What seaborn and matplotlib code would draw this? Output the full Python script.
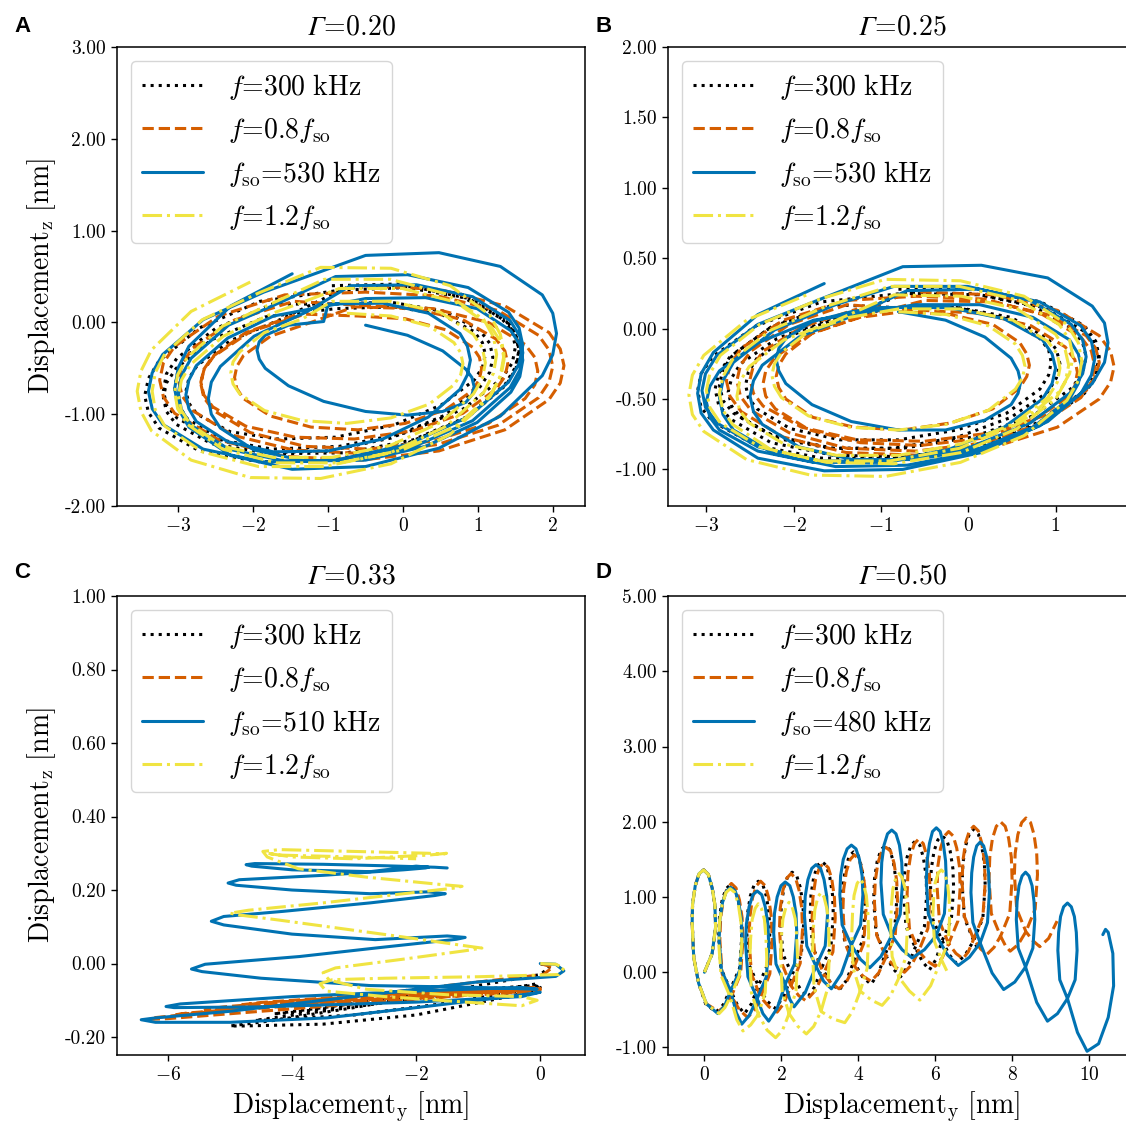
import matplotlib
matplotlib.use("Agg")
import matplotlib.pyplot as plt
import seaborn as sns
from matplotlib.ticker import FormatStrFormatter, MultipleLocator

# ---------------- panel A (Gamma = 0.20): orbit points, one row per turn ----------------
a_black_x = [-0.95, 0.01, 0.82, 1.36, 1.50, 1.55, 1.50, 1.36, 0.82, 0.01, -0.95, -1.91, -2.72, -3.26, -3.40, -3.45, -3.40, -3.26, -2.72, -1.91,
             -0.85, 0.05, 0.81, 1.32, 1.46, 1.50, 1.46, 1.32, 0.81, 0.05, -0.85, -1.75, -2.51, -3.02, -3.16, -3.20, -3.16, -3.02, -2.51, -1.75,
             -1.00, -0.16, 0.56, 1.03, 1.16, 1.20, 1.16, 1.03, 0.56, -0.16, -1.00, -1.84, -2.56, -3.03, -3.16, -3.20, -3.16, -3.03, -2.56, -1.84,
             -0.90, -0.13, 0.51, 0.95, 1.06, 1.10, 1.06, 0.95, 0.51, -0.13, -0.90, -1.67, -2.31, -2.75, -2.86, -2.90, -2.86, -2.75, -2.31, -1.67,
             -0.75, 0.13, 0.88, 1.38, 1.51, 1.55, 1.51, 1.38, 0.88, 0.13, -0.75, -1.63, -2.38, -2.88, -3.01, -3.05, -3.01, -2.88, -2.38, -1.63]
a_black_y = [0.40, 0.42, 0.30, 0.05, -0.12, -0.30, -0.49, -0.68, -1.05, -1.33, -1.50, -1.52, -1.40, -1.15, -0.98, -0.80, -0.61, -0.42, -0.06, 0.23,
             0.35, 0.38, 0.27, 0.04, -0.10, -0.27, -0.44, -0.61, -0.94, -1.20, -1.35, -1.38, -1.27, -1.04, -0.90, -0.74, -0.56, -0.39, -0.07, 0.20,
             0.20, 0.22, 0.12, -0.09, -0.23, -0.38, -0.54, -0.70, -1.01, -1.26, -1.40, -1.42, -1.32, -1.11, -0.97, -0.82, -0.66, -0.50, -0.19, 0.06,
             0.15, 0.17, 0.09, -0.10, -0.22, -0.35, -0.49, -0.63, -0.90, -1.12, -1.25, -1.27, -1.19, -1.00, -0.88, -0.75, -0.61, -0.47, -0.20, 0.02,
             0.38, 0.39, 0.26, 0.01, -0.15, -0.32, -0.50, -0.68, -1.02, -1.28, -1.42, -1.43, -1.30, -1.05, -0.89, -0.72, -0.54, -0.36, -0.03, 0.24]
a_orange_x = [-0.55, 0.48, 1.36, 1.95, 2.10, 2.15, 2.10, 1.95, 1.36, 0.48, -0.55, -1.58, -2.46, -3.05, -3.20, -3.25, -3.20, -3.05, -2.46, -1.58,
              -0.50, 0.46, 1.27, 1.81, 1.95, 2.00, 1.95, 1.81, 1.27, 0.46, -0.50, -1.46, -2.27, -2.81, -2.95, -3.00, -2.95, -2.81, -2.27, -1.46,
              -0.45, 0.41, 1.14, 1.63, 1.76, 1.80, 1.76, 1.63, 1.14, 0.41, -0.45, -1.31, -2.04, -2.53, -2.66, -2.70, -2.66, -2.53, -2.04, -1.31,
              -0.60, 0.03, 0.57, 0.93, 1.02, 1.05, 1.02, 0.93, 0.57, 0.03, -0.60, -1.23, -1.77, -2.13, -2.22, -2.25, -2.22, -2.13, -1.77, -1.23,
              -0.65, 0.14, 0.80, 1.24, 1.36, 1.40, 1.36, 1.24, 0.80, 0.14, -0.65, -1.44, -2.10, -2.54, -2.66, -2.70, -2.66, -2.54, -2.10, -1.44]
a_orange_y = [0.40, 0.36, 0.18, -0.11, -0.29, -0.47, -0.66, -0.84, -1.17, -1.40, -1.50, -1.46, -1.28, -0.99, -0.81, -0.63, -0.44, -0.26, 0.07, 0.30,
              0.33, 0.29, 0.13, -0.14, -0.30, -0.48, -0.65, -0.82, -1.12, -1.33, -1.43, -1.39, -1.23, -0.96, -0.80, -0.63, -0.45, -0.28, 0.02, 0.23,
              0.18, 0.15, 0.00, -0.24, -0.38, -0.53, -0.68, -0.83, -1.10, -1.29, -1.38, -1.35, -1.20, -0.96, -0.82, -0.67, -0.52, -0.37, -0.10, 0.09,
              0.07, 0.04, -0.08, -0.27, -0.38, -0.50, -0.62, -0.74, -0.95, -1.10, -1.17, -1.14, -1.02, -0.83, -0.72, -0.60, -0.48, -0.36, -0.15, 0.00,
              0.17, 0.15, 0.03, -0.18, -0.31, -0.45, -0.59, -0.73, -0.99, -1.18, -1.27, -1.25, -1.13, -0.92, -0.79, -0.65, -0.51, -0.37, -0.11, 0.08]
a_blue_x = [-0.50, 0.06, 0.53, 0.84, 0.92, 0.95, 0.92, 0.84, 0.53, 0.06, -0.50, -1.06, -1.53, -1.84, -1.92, -1.95, -1.92, -1.84, -1.53, -1.06,
            -1.00, -0.27, 0.34, 0.76, 0.86, 0.90, 0.86, 0.76, 0.34, -0.27, -1.00, -1.73, -2.34, -2.76, -2.86, -2.90, -2.86, -2.76, -2.34, -1.73,
            -0.50, 0.30, 0.99, 1.44, 1.56, 1.60, 1.56, 1.44, 0.99, 0.30, -0.50, -1.30, -1.99, -2.44, -2.56, -2.60, -2.56, -2.44, -1.99, -1.30,
            -0.70, 0.18, 0.93, 1.43, 1.56, 1.60, 1.56, 1.43, 0.93, 0.18, -0.70, -1.58, -2.33, -2.83, -2.96, -3.00, -2.96, -2.83, -2.33, -1.58,
            -0.90, 0.06, 0.87, 1.41, 1.55, 1.60, 1.55, 1.41, 0.87, 0.06, -0.90, -1.86, -2.67, -3.21, -3.35, -3.40, -3.35, -3.21, -2.67, -1.86,
            -0.50, 0.48, 1.30, 1.86, 2.00, 2.05, 2.00, 1.86, 1.30, 0.48, -0.50, -1.48, -2.30, -2.86, -3.00, -3.05, -3.00, -2.86, -2.30, -1.48]
a_blue_y = [-0.03, -0.14, -0.31, -0.51, -0.60, -0.70, -0.79, -0.87, -0.97, -1.01, -0.97, -0.86, -0.69, -0.50, -0.40, -0.30, -0.21, -0.14, -0.03, 0.01,
            0.20, 0.21, 0.10, -0.12, -0.26, -0.41, -0.57, -0.73, -1.03, -1.27, -1.40, -1.41, -1.30, -1.08, -0.94, -0.79, -0.63, -0.47, -0.17, 0.07,
            0.26, 0.27, 0.15, -0.09, -0.24, -0.41, -0.59, -0.76, -1.09, -1.35, -1.50, -1.51, -1.39, -1.15, -1.00, -0.83, -0.65, -0.48, -0.15, 0.11,
            0.40, 0.41, 0.28, 0.02, -0.15, -0.33, -0.52, -0.71, -1.07, -1.34, -1.50, -1.51, -1.38, -1.12, -0.95, -0.77, -0.58, -0.39, -0.03, 0.24,
            0.50, 0.52, 0.38, 0.11, -0.06, -0.25, -0.45, -0.65, -1.03, -1.33, -1.50, -1.52, -1.38, -1.11, -0.94, -0.75, -0.55, -0.35, 0.03, 0.33,
            0.73, 0.76, 0.61, 0.30, 0.10, -0.12, -0.35, -0.58, -1.02, -1.37, -1.57, -1.60, -1.45, -1.14, -0.94, -0.72, -0.49, -0.26, 0.18, 0.53]
a_yellow_x = [-0.75, -0.16, 0.35, 0.68, 0.77, 0.80, 0.77, 0.68, 0.35, -0.16, -0.75, -1.34, -1.85, -2.18, -2.27, -2.30, -2.27, -2.18, -1.85, -1.34,
              -0.95, -0.17, 0.50, 0.94, 1.06, 1.10, 1.06, 0.94, 0.50, -0.17, -0.95, -1.74, -2.40, -2.84, -2.96, -3.00, -2.96, -2.84, -2.40, -1.74,
              -0.85, -0.01, 0.71, 1.18, 1.31, 1.35, 1.31, 1.18, 0.71, -0.01, -0.85, -1.69, -2.41, -2.88, -3.01, -3.05, -3.01, -2.88, -2.41, -1.69,
              -1.05, -0.17, 0.58, 1.08, 1.21, 1.25, 1.21, 1.08, 0.58, -0.17, -1.05, -1.93, -2.68, -3.18, -3.31, -3.35, -3.31, -3.18, -2.68, -1.93,
              -1.10, -0.16, 0.63, 1.16, 1.30, 1.35, 1.30, 1.16, 0.63, -0.16, -1.10, -2.04, -2.83, -3.36, -3.50, -3.55, -3.50, -3.36, -2.83, -2.04]
a_yellow_y = [0.10, 0.07, -0.04, -0.22, -0.33, -0.45, -0.57, -0.68, -0.89, -1.04, -1.10, -1.07, -0.96, -0.78, -0.67, -0.55, -0.43, -0.32, -0.11, 0.04,
              0.23, 0.23, 0.11, -0.13, -0.28, -0.44, -0.61, -0.78, -1.09, -1.34, -1.47, -1.47, -1.35, -1.11, -0.96, -0.80, -0.63, -0.46, -0.15, 0.10,
              0.37, 0.37, 0.22, -0.05, -0.22, -0.40, -0.58, -0.78, -1.13, -1.39, -1.53, -1.53, -1.38, -1.11, -0.94, -0.76, -0.57, -0.38, -0.04, 0.23,
              0.47, 0.47, 0.31, 0.03, -0.16, -0.35, -0.55, -0.76, -1.13, -1.42, -1.57, -1.57, -1.41, -1.13, -0.95, -0.75, -0.55, -0.34, 0.03, 0.32,
              0.60, 0.59, 0.40, 0.08, -0.13, -0.35, -0.58, -0.81, -1.22, -1.54, -1.70, -1.69, -1.50, -1.18, -0.97, -0.75, -0.53, -0.30, 0.12, 0.44]

# ---------------- panel B (Gamma = 0.25) ----------------
b_black_x = [-0.80, 0.08, 0.83, 1.33, 1.46, 1.50, 1.46, 1.33, 0.83, 0.08, -0.80, -1.68, -2.43, -2.93, -3.06, -3.10, -3.06, -2.93, -2.43, -1.68,
             -0.75, 0.05, 0.74, 1.19, 1.31, 1.35, 1.31, 1.19, 0.74, 0.05, -0.75, -1.55, -2.24, -2.69, -2.81, -2.85, -2.81, -2.69, -2.24, -1.55,
             -0.85, -0.12, 0.49, 0.91, 1.01, 1.05, 1.01, 0.91, 0.49, -0.12, -0.85, -1.58, -2.19, -2.61, -2.71, -2.75, -2.71, -2.61, -2.19, -1.58,
             -0.80, -0.13, 0.44, 0.82, 0.92, 0.95, 0.92, 0.82, 0.44, -0.13, -0.80, -1.47, -2.04, -2.42, -2.52, -2.55, -2.52, -2.42, -2.04, -1.47,
             -0.70, 0.14, 0.86, 1.33, 1.46, 1.50, 1.46, 1.33, 0.86, 0.14, -0.70, -1.54, -2.26, -2.73, -2.86, -2.90, -2.86, -2.73, -2.26, -1.54]
b_black_y = [0.28, 0.28, 0.19, 0.02, -0.09, -0.20, -0.32, -0.44, -0.66, -0.83, -0.92, -0.92, -0.83, -0.66, -0.56, -0.44, -0.32, -0.20, 0.02, 0.19,
             0.25, 0.25, 0.16, 0.00, -0.10, -0.20, -0.31, -0.42, -0.62, -0.77, -0.85, -0.85, -0.76, -0.60, -0.51, -0.40, -0.29, -0.18, 0.02, 0.17,
             0.15, 0.15, 0.08, -0.07, -0.15, -0.25, -0.35, -0.45, -0.63, -0.77, -0.85, -0.85, -0.78, -0.63, -0.55, -0.45, -0.35, -0.25, -0.07, 0.07,
             0.15, 0.15, 0.07, -0.07, -0.15, -0.24, -0.33, -0.43, -0.60, -0.72, -0.79, -0.79, -0.71, -0.57, -0.49, -0.40, -0.31, -0.21, -0.05, 0.08,
             0.25, 0.24, 0.15, -0.02, -0.12, -0.23, -0.35, -0.46, -0.67, -0.83, -0.91, -0.90, -0.81, -0.64, -0.54, -0.43, -0.32, -0.20, 0.01, 0.17]
b_orange_x = [-0.55, 0.30, 1.02, 1.50, 1.63, 1.67, 1.63, 1.50, 1.02, 0.30, -0.55, -1.40, -2.12, -2.60, -2.73, -2.77, -2.73, -2.60, -2.12, -1.40,
              -0.60, 0.19, 0.85, 1.29, 1.41, 1.45, 1.41, 1.29, 0.85, 0.19, -0.60, -1.39, -2.05, -2.49, -2.61, -2.65, -2.61, -2.49, -2.05, -1.39,
              -0.55, 0.14, 0.72, 1.11, 1.22, 1.25, 1.22, 1.11, 0.72, 0.14, -0.55, -1.24, -1.82, -2.21, -2.32, -2.35, -2.32, -2.21, -1.82, -1.24,
              -0.75, -0.20, 0.28, 0.59, 0.67, 0.70, 0.67, 0.59, 0.28, -0.20, -0.75, -1.31, -1.78, -2.09, -2.17, -2.20, -2.17, -2.09, -1.78, -1.31,
              -0.50, 0.27, 0.91, 1.35, 1.46, 1.50, 1.46, 1.35, 0.91, 0.27, -0.50, -1.27, -1.91, -2.35, -2.46, -2.50, -2.46, -2.35, -1.91, -1.27]
b_orange_y = [0.26, 0.24, 0.13, -0.05, -0.16, -0.27, -0.38, -0.50, -0.70, -0.84, -0.90, -0.88, -0.77, -0.59, -0.48, -0.37, -0.26, -0.14, 0.06, 0.20,
              0.23, 0.21, 0.10, -0.06, -0.16, -0.27, -0.38, -0.49, -0.67, -0.81, -0.87, -0.85, -0.74, -0.58, -0.48, -0.37, -0.26, -0.16, 0.03, 0.17,
              0.13, 0.11, 0.02, -0.13, -0.22, -0.31, -0.41, -0.50, -0.66, -0.78, -0.83, -0.81, -0.72, -0.57, -0.48, -0.39, -0.30, -0.20, -0.04, 0.08,
              0.12, 0.10, 0.03, -0.10, -0.18, -0.26, -0.34, -0.42, -0.57, -0.67, -0.72, -0.70, -0.63, -0.50, -0.42, -0.34, -0.26, -0.18, -0.03, 0.07,
              0.20, 0.19, 0.10, -0.05, -0.14, -0.24, -0.34, -0.44, -0.61, -0.74, -0.80, -0.79, -0.70, -0.55, -0.46, -0.36, -0.26, -0.16, 0.01, 0.14]
b_blue_x = [-0.80, -0.26, 0.19, 0.49, 0.57, 0.60, 0.57, 0.49, 0.19, -0.26, -0.80, -1.34, -1.79, -2.09, -2.17, -2.20, -2.17, -2.09, -1.79, -1.34,
            -1.00, -0.23, 0.41, 0.85, 0.96, 1.00, 0.96, 0.85, 0.41, -0.23, -1.00, -1.77, -2.41, -2.85, -2.96, -3.00, -2.96, -2.85, -2.41, -1.77,
            -0.60, 0.13, 0.74, 1.16, 1.26, 1.30, 1.26, 1.16, 0.74, 0.13, -0.60, -1.33, -1.94, -2.36, -2.46, -2.50, -2.46, -2.36, -1.94, -1.33,
            -0.70, 0.12, 0.82, 1.29, 1.41, 1.45, 1.41, 1.29, 0.82, 0.12, -0.70, -1.52, -2.22, -2.69, -2.81, -2.85, -2.81, -2.69, -2.22, -1.52,
            -0.85, -0.01, 0.71, 1.18, 1.31, 1.35, 1.31, 1.18, 0.71, -0.01, -0.85, -1.69, -2.41, -2.88, -3.01, -3.05, -3.01, -2.88, -2.41, -1.69,
            -0.75, 0.15, 0.91, 1.42, 1.56, 1.60, 1.56, 1.42, 0.91, 0.15, -0.75, -1.65, -2.41, -2.92, -3.06, -3.10, -3.06, -2.92, -2.41, -1.65]
b_blue_y = [0.12, 0.06, -0.06, -0.21, -0.30, -0.38, -0.46, -0.54, -0.65, -0.72, -0.72, -0.66, -0.54, -0.39, -0.30, -0.22, -0.14, -0.07, 0.05, 0.12,
            0.15, 0.15, 0.07, -0.08, -0.18, -0.28, -0.39, -0.50, -0.70, -0.86, -0.95, -0.95, -0.87, -0.72, -0.63, -0.52, -0.41, -0.30, -0.10, 0.06,
            0.17, 0.17, 0.08, -0.08, -0.18, -0.28, -0.39, -0.50, -0.70, -0.85, -0.93, -0.93, -0.84, -0.68, -0.59, -0.48, -0.37, -0.26, -0.06, 0.09,
            0.27, 0.28, 0.19, 0.02, -0.09, -0.21, -0.33, -0.46, -0.69, -0.87, -0.97, -0.98, -0.89, -0.72, -0.61, -0.49, -0.37, -0.24, -0.01, 0.17,
            0.30, 0.30, 0.20, 0.03, -0.08, -0.20, -0.32, -0.45, -0.67, -0.85, -0.94, -0.94, -0.84, -0.67, -0.56, -0.44, -0.32, -0.19, 0.03, 0.21,
            0.44, 0.45, 0.36, 0.16, 0.04, -0.10, -0.24, -0.39, -0.66, -0.88, -1.00, -1.01, -0.92, -0.72, -0.60, -0.46, -0.32, -0.17, 0.10, 0.32]
b_yellow_x = [-0.80, -0.25, 0.23, 0.54, 0.62, 0.65, 0.62, 0.54, 0.23, -0.25, -0.80, -1.36, -1.83, -2.14, -2.22, -2.25, -2.22, -2.14, -1.83, -1.36,
              -0.80, -0.09, 0.51, 0.91, 1.02, 1.05, 1.02, 0.91, 0.51, -0.09, -0.80, -1.51, -2.11, -2.51, -2.62, -2.65, -2.62, -2.51, -2.11, -1.51,
              -0.85, -0.08, 0.56, 1.00, 1.11, 1.15, 1.11, 1.00, 0.56, -0.08, -0.85, -1.62, -2.26, -2.70, -2.81, -2.85, -2.81, -2.70, -2.26, -1.62,
              -0.90, -0.10, 0.59, 1.04, 1.16, 1.20, 1.16, 1.04, 0.59, -0.10, -0.90, -1.70, -2.39, -2.84, -2.96, -3.00, -2.96, -2.84, -2.39, -1.70,
              -0.95, -0.09, 0.64, 1.13, 1.26, 1.30, 1.26, 1.13, 0.64, -0.09, -0.95, -1.81, -2.54, -3.03, -3.16, -3.20, -3.16, -3.03, -2.54, -1.81]
b_yellow_y = [0.12, 0.10, 0.02, -0.11, -0.19, -0.27, -0.35, -0.43, -0.58, -0.68, -0.72, -0.70, -0.62, -0.49, -0.41, -0.33, -0.25, -0.17, -0.02, 0.08,
              0.14, 0.14, 0.06, -0.09, -0.18, -0.28, -0.38, -0.49, -0.68, -0.82, -0.90, -0.90, -0.82, -0.67, -0.58, -0.48, -0.38, -0.27, -0.08, 0.06,
              0.24, 0.23, 0.14, -0.04, -0.15, -0.26, -0.38, -0.50, -0.71, -0.88, -0.96, -0.95, -0.86, -0.68, -0.58, -0.46, -0.34, -0.22, -0.01, 0.16,
              0.30, 0.30, 0.20, 0.03, -0.08, -0.20, -0.32, -0.45, -0.67, -0.85, -0.94, -0.94, -0.84, -0.67, -0.56, -0.44, -0.32, -0.19, 0.03, 0.21,
              0.35, 0.34, 0.23, 0.03, -0.10, -0.23, -0.37, -0.51, -0.76, -0.95, -1.05, -1.04, -0.93, -0.73, -0.61, -0.47, -0.33, -0.19, 0.06, 0.25]

# ---------------- panel C (Gamma = 0.33) ----------------
c_black_x = [0.00, 0.15, 0.00, -1.50, -3.00, -4.30, -4.90, -5.00, -4.80, -3.50, -2.00, -0.80,
             -0.10, 0.00, -0.30, -1.80, -3.30, -4.40, -4.60, -4.40, -3.00, -1.60, -0.50, -0.05,
             -0.10, -0.80, -2.20, -3.50, -4.20, -4.30, -4.00, -2.80, -1.50, -0.40, -0.05]
c_black_y = [0.000, -0.010, -0.030, -0.075, -0.120, -0.155, -0.168, -0.170, -0.170, -0.165, -0.140, -0.100,
             -0.075, -0.065, -0.068, -0.090, -0.125, -0.150, -0.155, -0.154, -0.140, -0.110, -0.080, -0.062,
             -0.060, -0.068, -0.090, -0.120, -0.135, -0.137, -0.133, -0.110, -0.085, -0.065, -0.055]
c_orange_x = [0.00, 0.20, 0.05, -1.50, -3.50, -5.50, -6.25, -6.30, -6.00, -4.50, -3.00, -1.50,
              -0.20, 0.00, -0.30, -2.00, -4.00, -5.60, -5.90, -5.70, -4.20, -2.50, -1.00, -0.10,
              0.00, -0.40, -2.20, -4.00, -5.20, -5.40, -5.10, -3.80, -2.50, -1.20, -0.20, -0.05,
              -0.50, -2.00, -3.60, -4.60, -4.80, -4.50, -3.30, -2.00, -0.80, -0.20]
c_orange_y = [0.000, -0.010, -0.030, -0.060, -0.100, -0.135, -0.148, -0.152, -0.150, -0.130, -0.110, -0.090,
              -0.075, -0.072, -0.078, -0.095, -0.115, -0.135, -0.140, -0.135, -0.115, -0.095, -0.080, -0.070,
              -0.068, -0.074, -0.090, -0.110, -0.125, -0.125, -0.118, -0.100, -0.085, -0.075, -0.068, -0.065,
              -0.070, -0.085, -0.098, -0.110, -0.112, -0.106, -0.092, -0.080, -0.072, -0.068]
c_blue_x = [0.00, 0.25, 0.38, 0.25, -1.00, -3.00, -5.00, -6.20, -6.43, -6.20, -5.00, -3.44,
            -2.00, -0.50, 0.00, -0.30, -2.00, -4.50, -5.90, -6.03, -5.80, -4.00, -2.00, -0.30,
            -0.05, -1.00, -2.74, -4.50, -5.45, -5.62, -5.40, -3.88, -2.50, -1.35, -1.21, -1.50,
            -2.66, -4.00, -5.10, -5.30, -5.10, -4.14, -2.74, -1.70, -1.53, -1.80, -2.74, -4.00,
            -4.90, -5.03, -4.85, -3.50, -2.20, -1.85, -1.80, -2.00, -2.74, -4.00, -4.65, -4.74,
            -4.60, -3.50, -2.50, -1.70, -1.50]
c_blue_y = [0.000, -0.002, -0.020, -0.035, -0.050, -0.090, -0.130, -0.148, -0.153, -0.160, -0.160, -0.148,
            -0.120, -0.090, -0.078, -0.090, -0.105, -0.118, -0.120, -0.117, -0.110, -0.090, -0.075, -0.065,
            -0.070, -0.065, -0.060, -0.040, -0.022, -0.015, -0.002, 0.019, 0.045, 0.066, 0.071, 0.075,
            0.065, 0.080, 0.105, 0.115, 0.128, 0.142, 0.165, 0.185, 0.190, 0.195, 0.190, 0.200,
            0.213, 0.219, 0.228, 0.240, 0.255, 0.260, 0.262, 0.265, 0.250, 0.255, 0.265, 0.269,
            0.272, 0.270, 0.266, 0.262, 0.260]
c_yellow_x = [0.00, 0.25, 0.38, 0.30, -1.00, -2.50, -3.35, -3.55, -3.45, -2.50, -1.20, -0.30,
              -0.05, -0.30, -1.50, -2.80, -3.40, -3.50, -3.30, -2.20, -1.20, -0.94, -1.20, -2.20,
              -3.07, -4.20, -4.85, -5.00, -4.70, -3.50, -2.20, -1.40, -1.26, -1.60, -2.80, -3.90,
              -4.40, -4.47, -4.20, -3.00, -1.80, -1.55, -1.51, -1.80, -3.00, -4.00, -4.40, -4.20,
              -3.00, -2.00]
c_yellow_y = [0.000, -0.002, -0.012, -0.030, -0.036, -0.040, -0.044, -0.055, -0.075, -0.090, -0.105, -0.115,
              -0.100, -0.090, -0.085, -0.070, -0.045, -0.025, -0.012, 0.012, 0.035, 0.042, 0.048, 0.072,
              0.092, 0.118, 0.132, 0.137, 0.145, 0.165, 0.190, 0.205, 0.210, 0.215, 0.235, 0.258,
              0.290, 0.305, 0.310, 0.305, 0.300, 0.298, 0.300, 0.295, 0.285, 0.290, 0.300, 0.295,
              0.290, 0.285]

# ---------------- panel D (Gamma = 0.50): one row per loop ----------------
d_black_x = [0.00, 0.20, 0.29, 0.27, 0.20, 0.10, -0.02, -0.14, -0.24, -0.31, -0.32, -0.28, -0.15, 0.03, 0.30, 0.49,
             0.67, 0.91, 0.97, 0.95, 0.88, 0.79, 0.67, 0.56, 0.46, 0.39, 0.37, 0.43, 0.67, 0.86, 1.04, 1.22,
             1.40, 1.64, 1.70, 1.68, 1.61, 1.52, 1.40, 1.29, 1.19, 1.12, 1.10, 1.16, 1.40, 1.62, 1.84, 2.06,
             2.28, 2.52, 2.58, 2.56, 2.49, 2.40, 2.28, 2.17, 2.07, 2.00, 1.98, 2.04, 2.28, 2.49, 2.69, 2.87,
             3.05, 3.29, 3.35, 3.33, 3.26, 3.17, 3.05, 2.94, 2.84, 2.77, 2.75, 2.81, 3.05, 3.28, 3.50, 3.69,
             3.88, 4.12, 4.18, 4.16, 4.09, 4.00, 3.88, 3.77, 3.67, 3.60, 3.58, 3.64, 3.88, 4.11, 4.33, 4.52,
             4.70, 4.94, 5.00, 4.98, 4.91, 4.82, 4.70, 4.59, 4.49, 4.42, 4.40, 4.46, 4.70, 4.90, 5.10, 5.29,
             5.48, 5.72, 5.78, 5.76, 5.69, 5.60, 5.48, 5.37, 5.27, 5.20, 5.18, 5.24, 5.48, 5.67, 5.85, 6.02,
             6.18, 6.42, 6.48, 6.46, 6.39, 6.30, 6.18, 6.07, 5.97, 5.90, 5.88, 5.94, 6.18, 6.37, 6.55, 6.78,
             7.00, 7.24, 7.30, 7.28, 7.21, 7.12, 7.00, 6.89, 6.79, 6.72, 6.70, 6.76, 7.00, 7.09]
d_black_y = [0.00, 0.25, 0.60, 0.90, 1.12, 1.30, 1.36, 1.31, 1.15, 0.90, 0.66, 0.20, -0.15, -0.42, -0.53, -0.43,
             -0.23, 0.05, 0.47, 0.73, 0.96, 1.11, 1.16, 1.11, 0.96, 0.73, 0.47, 0.05, -0.23, -0.44, -0.55, -0.42,
             -0.18, 0.10, 0.52, 0.78, 1.01, 1.16, 1.21, 1.16, 1.01, 0.78, 0.52, 0.10, -0.18, -0.38, -0.48, -0.32,
             -0.03, 0.24, 0.65, 0.91, 1.13, 1.28, 1.33, 1.28, 1.13, 0.91, 0.65, 0.24, -0.03, -0.22, -0.33, -0.19,
             0.06, 0.34, 0.77, 1.03, 1.26, 1.42, 1.47, 1.42, 1.26, 1.03, 0.77, 0.34, 0.06, -0.14, -0.24, -0.11,
             0.14, 0.43, 0.87, 1.15, 1.39, 1.55, 1.60, 1.55, 1.39, 1.15, 0.87, 0.43, 0.14, -0.06, -0.16, -0.02,
             0.24, 0.53, 0.96, 1.23, 1.47, 1.63, 1.68, 1.63, 1.47, 1.23, 0.96, 0.53, 0.24, 0.05, -0.06, 0.08,
             0.33, 0.61, 1.04, 1.30, 1.53, 1.69, 1.74, 1.69, 1.53, 1.30, 1.04, 0.61, 0.33, 0.14, 0.03, 0.17,
             0.42, 0.70, 1.12, 1.38, 1.61, 1.76, 1.81, 1.76, 1.61, 1.38, 1.12, 0.70, 0.42, 0.23, 0.12, 0.23,
             0.42, 0.72, 1.16, 1.44, 1.68, 1.84, 1.90, 1.84, 1.68, 1.44, 1.16, 0.72, 0.42, 0.33]
d_orange_x = [0.00, 0.20, 0.29, 0.27, 0.20, 0.10, -0.02, -0.14, -0.24, -0.31, -0.32, -0.28, -0.15, 0.05, 0.36, 0.53,
              0.70, 0.94, 1.00, 0.98, 0.91, 0.82, 0.70, 0.59, 0.49, 0.42, 0.40, 0.46, 0.70, 0.91, 1.12, 1.29,
              1.46, 1.70, 1.76, 1.74, 1.67, 1.58, 1.46, 1.35, 1.25, 1.18, 1.16, 1.22, 1.46, 1.68, 1.89, 2.07,
              2.25, 2.49, 2.55, 2.53, 2.46, 2.37, 2.25, 2.14, 2.04, 1.97, 1.95, 2.01, 2.25, 2.45, 2.64, 2.87,
              3.10, 3.34, 3.40, 3.38, 3.31, 3.22, 3.10, 2.99, 2.89, 2.82, 2.80, 2.86, 3.10, 3.30, 3.50, 3.70,
              3.90, 4.14, 4.20, 4.18, 4.11, 4.02, 3.90, 3.79, 3.69, 3.62, 3.60, 3.66, 3.90, 4.12, 4.33, 4.53,
              4.72, 4.96, 5.02, 5.00, 4.93, 4.84, 4.72, 4.61, 4.51, 4.44, 4.42, 4.48, 4.72, 4.96, 5.20, 5.39,
              5.57, 5.81, 5.87, 5.85, 5.78, 5.69, 5.57, 5.46, 5.36, 5.29, 5.27, 5.33, 5.57, 5.79, 6.00, 6.18,
              6.35, 6.59, 6.65, 6.63, 6.56, 6.47, 6.35, 6.24, 6.14, 6.07, 6.05, 6.11, 6.35, 6.54, 6.72, 6.86,
              7.00, 7.24, 7.30, 7.28, 7.21, 7.12, 7.00, 6.89, 6.79, 6.72, 6.70, 6.76, 7.00, 7.18, 7.35, 7.53,
              7.70, 7.94, 8.00, 7.98, 7.91, 7.82, 7.70, 7.59, 7.49, 7.42, 7.40, 7.46, 7.70, 7.83, 7.95, 8.16,
              8.36, 8.60, 8.66, 8.64, 8.57, 8.48, 8.36, 8.25, 8.15, 8.08, 8.06, 8.12, 8.36, 8.54, 8.72, 8.95, 9.17]
d_orange_y = [0.00, 0.25, 0.60, 0.90, 1.12, 1.30, 1.36, 1.31, 1.15, 0.90, 0.66, 0.20, -0.15, -0.42, -0.52, -0.45,
              -0.32, -0.02, 0.43, 0.72, 0.96, 1.12, 1.18, 1.12, 0.96, 0.72, 0.43, -0.02, -0.32, -0.50, -0.60, -0.51,
              -0.33, -0.02, 0.44, 0.73, 0.99, 1.15, 1.21, 1.15, 0.99, 0.73, 0.44, -0.02, -0.33, -0.46, -0.53, -0.41,
              -0.18, 0.12, 0.57, 0.85, 1.09, 1.25, 1.31, 1.25, 1.09, 0.85, 0.57, 0.12, -0.18, -0.31, -0.38, -0.25,
              -0.02, 0.27, 0.72, 0.99, 1.24, 1.39, 1.45, 1.39, 1.24, 0.99, 0.72, 0.27, -0.02, -0.15, -0.22, -0.12,
              0.08, 0.38, 0.82, 1.10, 1.34, 1.50, 1.56, 1.50, 1.34, 1.10, 0.82, 0.38, 0.08, -0.05, -0.12, -0.01,
              0.20, 0.49, 0.93, 1.21, 1.45, 1.61, 1.66, 1.61, 1.45, 1.21, 0.93, 0.49, 0.20, 0.07, 0.00, 0.10,
              0.28, 0.58, 1.03, 1.31, 1.55, 1.71, 1.77, 1.71, 1.55, 1.31, 1.03, 0.58, 0.28, 0.15, 0.08, 0.19,
              0.38, 0.68, 1.13, 1.41, 1.65, 1.81, 1.87, 1.81, 1.65, 1.41, 1.13, 0.68, 0.38, 0.25, 0.18, 0.27,
              0.44, 0.74, 1.19, 1.48, 1.72, 1.88, 1.94, 1.88, 1.72, 1.48, 1.19, 0.74, 0.44, 0.31, 0.24, 0.33,
              0.48, 0.78, 1.24, 1.53, 1.78, 1.94, 2.00, 1.94, 1.78, 1.53, 1.24, 0.78, 0.48, 0.35, 0.28, 0.37,
              0.54, 0.84, 1.30, 1.58, 1.83, 1.99, 2.05, 1.99, 1.83, 1.58, 1.30, 0.84, 0.54, 0.42, 0.34, 0.45, 0.68]
d_blue_x = [0.00, 0.20, 0.29, 0.27, 0.20, 0.10, -0.02, -0.14, -0.24, -0.31, -0.32, -0.28, -0.15, 0.05, 0.35, 0.52,
            0.68, 0.92, 0.98, 0.96, 0.89, 0.80, 0.68, 0.57, 0.47, 0.40, 0.38, 0.44, 0.68, 0.83, 0.97, 1.17,
            1.37, 1.61, 1.67, 1.65, 1.58, 1.49, 1.37, 1.26, 1.16, 1.09, 1.07, 1.13, 1.37, 1.52, 1.67, 1.89,
            2.10, 2.34, 2.40, 2.38, 2.31, 2.22, 2.10, 1.99, 1.89, 1.82, 1.80, 1.86, 2.10, 2.22, 2.33, 2.62,
            2.90, 3.14, 3.20, 3.18, 3.11, 3.02, 2.90, 2.79, 2.69, 2.62, 2.60, 2.66, 2.90, 3.10, 3.30, 3.56,
            3.82, 4.06, 4.12, 4.10, 4.03, 3.94, 3.82, 3.71, 3.61, 3.54, 3.52, 3.58, 3.82, 4.06, 4.30, 4.59,
            4.87, 5.09, 5.15, 5.13, 5.07, 4.98, 4.87, 4.76, 4.67, 4.61, 4.59, 4.65, 4.87, 5.14, 5.40, 5.72,
            6.03, 6.24, 6.29, 6.27, 6.21, 6.13, 6.03, 5.93, 5.85, 5.79, 5.77, 5.82, 6.03, 6.32, 6.60, 6.89,
            7.17, 7.36, 7.41, 7.39, 7.34, 7.26, 7.17, 7.08, 7.00, 6.95, 6.93, 6.98, 7.17, 7.48, 7.78, 8.07,
            8.35, 8.54, 8.59, 8.57, 8.52, 8.44, 8.35, 8.26, 8.18, 8.13, 8.11, 8.16, 8.35, 8.64, 8.92, 9.18,
            9.44, 9.64, 9.69, 9.67, 9.62, 9.54, 9.44, 9.34, 9.26, 9.21, 9.19, 9.24, 9.44, 9.70, 9.95,
            10.25, 10.50, 10.64, 10.62, 10.50, 10.43, 10.36]
d_blue_y = [0.00, 0.25, 0.60, 0.90, 1.12, 1.30, 1.36, 1.31, 1.15, 0.90, 0.66, 0.20, -0.15, -0.42, -0.55, -0.45,
            -0.25, 0.03, 0.44, 0.70, 0.93, 1.08, 1.13, 1.08, 0.93, 0.70, 0.44, 0.03, -0.25, -0.54, -0.69, -0.57,
            -0.35, -0.06, 0.37, 0.64, 0.87, 1.03, 1.08, 1.03, 0.87, 0.64, 0.37, -0.06, -0.35, -0.55, -0.65, -0.48,
            -0.16, 0.11, 0.52, 0.78, 1.00, 1.15, 1.20, 1.15, 1.00, 0.78, 0.52, 0.11, -0.16, -0.36, -0.46, -0.27,
            0.08, 0.35, 0.76, 1.01, 1.23, 1.38, 1.43, 1.38, 1.23, 1.01, 0.76, 0.35, 0.08, -0.12, -0.22, -0.02,
            0.36, 0.63, 1.03, 1.28, 1.50, 1.64, 1.69, 1.64, 1.50, 1.28, 1.03, 0.63, 0.36, 0.17, 0.06, 0.21,
            0.49, 0.77, 1.19, 1.46, 1.69, 1.84, 1.89, 1.84, 1.69, 1.46, 1.19, 0.77, 0.49, 0.30, 0.19, 0.30,
            0.49, 0.78, 1.21, 1.48, 1.71, 1.87, 1.92, 1.87, 1.71, 1.48, 1.21, 0.78, 0.49, 0.23, 0.09, 0.20,
            0.39, 0.66, 1.06, 1.32, 1.53, 1.68, 1.73, 1.68, 1.53, 1.32, 1.06, 0.66, 0.39, -0.01, -0.23, -0.13,
            0.07, 0.32, 0.70, 0.94, 1.15, 1.28, 1.33, 1.28, 1.15, 0.94, 0.70, 0.32, 0.07, -0.40, -0.65, -0.55,
            -0.35, -0.10, 0.29, 0.53, 0.74, 0.87, 0.92, 0.87, 0.74, 0.53, 0.29, -0.10, -0.35, -0.80, -1.05,
            -0.95, -0.60, -0.18, 0.25, 0.53, 0.57, 0.50]
d_yellow_x = [0.00, 0.20, 0.29, 0.27, 0.20, 0.10, -0.02, -0.14, -0.24, -0.31, -0.32, -0.28, -0.15, 0.05, 0.38, 0.53,
              0.67, 0.91, 0.97, 0.95, 0.88, 0.79, 0.67, 0.56, 0.46, 0.39, 0.37, 0.43, 0.67, 0.84, 1.00, 1.20,
              1.40, 1.58, 1.62, 1.60, 1.56, 1.48, 1.40, 1.32, 1.24, 1.20, 1.18, 1.22, 1.40, 1.63, 1.85, 2.03,
              2.20, 2.38, 2.42, 2.40, 2.36, 2.28, 2.20, 2.12, 2.04, 2.00, 1.98, 2.02, 2.20, 2.43, 2.65, 2.84,
              3.03, 3.21, 3.25, 3.23, 3.19, 3.11, 3.03, 2.95, 2.87, 2.83, 2.81, 2.85, 3.03, 3.34, 3.65, 3.85,
              4.05, 4.23, 4.27, 4.25, 4.21, 4.13, 4.05, 3.97, 3.89, 3.85, 3.83, 3.87, 4.05, 4.34, 4.62, 4.84,
              5.06, 5.24, 5.28, 5.26, 5.22, 5.14, 5.06, 4.98, 4.90, 4.86, 4.84, 4.88, 5.06, 5.33, 5.60, 5.88,
              6.16, 6.34, 6.38, 6.36, 6.32, 6.24, 6.16, 6.08, 6.00, 5.96, 5.94, 5.98, 6.16, 6.30]
d_yellow_y = [0.00, 0.25, 0.60, 0.90, 1.12, 1.30, 1.36, 1.31, 1.15, 0.90, 0.66, 0.20, -0.15, -0.42, -0.55, -0.47,
              -0.33, -0.04, 0.39, 0.66, 0.90, 1.06, 1.11, 1.06, 0.90, 0.66, 0.39, -0.04, -0.33, -0.63, -0.78, -0.70,
              -0.56, -0.27, 0.18, 0.45, 0.70, 0.85, 0.91, 0.85, 0.70, 0.45, 0.18, -0.27, -0.56, -0.77, -0.87, -0.77,
              -0.55, -0.25, 0.19, 0.47, 0.71, 0.87, 0.93, 0.87, 0.71, 0.47, 0.19, -0.25, -0.55, -0.72, -0.82, -0.72,
              -0.52, -0.20, 0.27, 0.57, 0.83, 1.00, 1.06, 1.00, 0.83, 0.57, 0.27, -0.20, -0.52, -0.62, -0.67, -0.52,
              -0.25, 0.05, 0.50, 0.78, 1.02, 1.18, 1.24, 1.18, 1.02, 0.78, 0.50, 0.05, -0.25, -0.37, -0.44, -0.31,
              -0.07, 0.21, 0.62, 0.88, 1.11, 1.26, 1.31, 1.26, 1.11, 0.88, 0.62, 0.21, -0.07, -0.25, -0.37, -0.18,
              0.17, 0.41, 0.77, 0.99, 1.19, 1.32, 1.36, 1.32, 1.19, 0.99, 0.77, 0.41, 0.17, 0.02]

# panel settings
letters = ["A", "B", "C", "D"]
gammas = ["0.20", "0.25", "0.33", "0.50"]
f_so = ["530", "530", "510", "480"]
xlims = [(-3.82, 2.43), (-3.44, 1.92), (-6.82, 0.72), (-0.95, 11.22)]
ylims = [(-2.0, 3.0), (-1.26, 2.0), (-0.249, 1.0), (-1.10, 5.0)]
xsteps = [1, 1, 2, 2]
ysteps = [1.0, 0.5, 0.2, 1.0]

colors = ["black", "#D55E00", "#0072B2", "#F0E442"]
styles = [":", "--", "-", "-."]

sns.set_style("ticks")
plt.rcParams["font.family"] = "serif"
plt.rcParams["font.serif"] = ["cmr10"]
plt.rcParams["mathtext.fontset"] = "cm"
plt.rcParams["mathtext.rm"] = "STIXGeneral:italic"   # only used by the titles (custom math font) for the slanted Gamma
plt.rcParams["axes.formatter.use_mathtext"] = True
plt.rcParams["axes.edgecolor"] = "black"
plt.rcParams["axes.labelcolor"] = "black"
plt.rcParams["text.color"] = "black"
plt.rcParams["xtick.color"] = "black"
plt.rcParams["ytick.color"] = "black"
plt.rcParams["axes.linewidth"] = 1.1

panels = [
    [(a_black_x, a_black_y), (a_orange_x, a_orange_y), (a_blue_x, a_blue_y), (a_yellow_x, a_yellow_y)],
    [(b_black_x, b_black_y), (b_orange_x, b_orange_y), (b_blue_x, b_blue_y), (b_yellow_x, b_yellow_y)],
    [(c_black_x, c_black_y), (c_orange_x, c_orange_y), (c_blue_x, c_blue_y), (c_yellow_x, c_yellow_y)],
    [(d_black_x, d_black_y), (d_orange_x, d_orange_y), (d_blue_x, d_blue_y), (d_yellow_x, d_yellow_y)],
]

# axes boxes in figure fractions (right column runs past the right edge, like the original crop)
boxes = [[0.1039, 0.5514, 0.4156, 0.4069], [0.5932, 0.5514, 0.4156, 0.4069],
         [0.1039, 0.0647, 0.4156, 0.4069], [0.5932, 0.0647, 0.4156, 0.4069]]
letter_pos = [(0.0124, 0.9716), (0.5293, 0.9716), (0.0124, 0.4876), (0.5293, 0.4876)]

fig = plt.figure(figsize=(11.26, 11.28), dpi=100)

for i in range(4):
    ax = fig.add_axes(boxes[i])
    labels = [r"$f$=300$\ $kHz", r"$f$=0.8$f_\mathrm{so}$",
              r"$f_\mathrm{so}$=" + f_so[i] + r"$\ $kHz", r"$f$=1.2$f_\mathrm{so}$"]
    for j, (xs, ys) in enumerate(panels[i]):
        sns.lineplot(x=xs, y=ys, sort=False, estimator=None, ax=ax, color=colors[j],
                     linestyle=styles[j], linewidth=2.2, label=labels[j])
    ax.set_xlim(*xlims[i])
    ax.set_ylim(*ylims[i])
    ax.xaxis.set_major_locator(MultipleLocator(xsteps[i]))
    ax.yaxis.set_major_locator(MultipleLocator(ysteps[i]))
    ax.yaxis.set_major_formatter(FormatStrFormatter("%.2f"))
    ax.tick_params(labelsize=14, length=4.5, width=1.0)
    ax.set_title(r"$\Gamma$=" + gammas[i], fontsize=20, pad=9, math_fontfamily="custom")
    ax.legend(loc="upper left", fontsize=20, handlelength=2.2, handletextpad=0.9)
    if i in (0, 2):
        ax.set_ylabel(r"Displacement$_\mathrm{z}$$\ $[nm]", fontsize=20, labelpad=5)
    if i in (2, 3):
        ax.set_xlabel(r"Displacement$_\mathrm{y}$$\ $[nm]", fontsize=20, labelpad=4)
    fig.text(letter_pos[i][0], letter_pos[i][1], letters[i], fontsize=16, fontweight="bold",
             family="Liberation Sans", va="baseline")

fig.savefig("out.png", dpi=100)
